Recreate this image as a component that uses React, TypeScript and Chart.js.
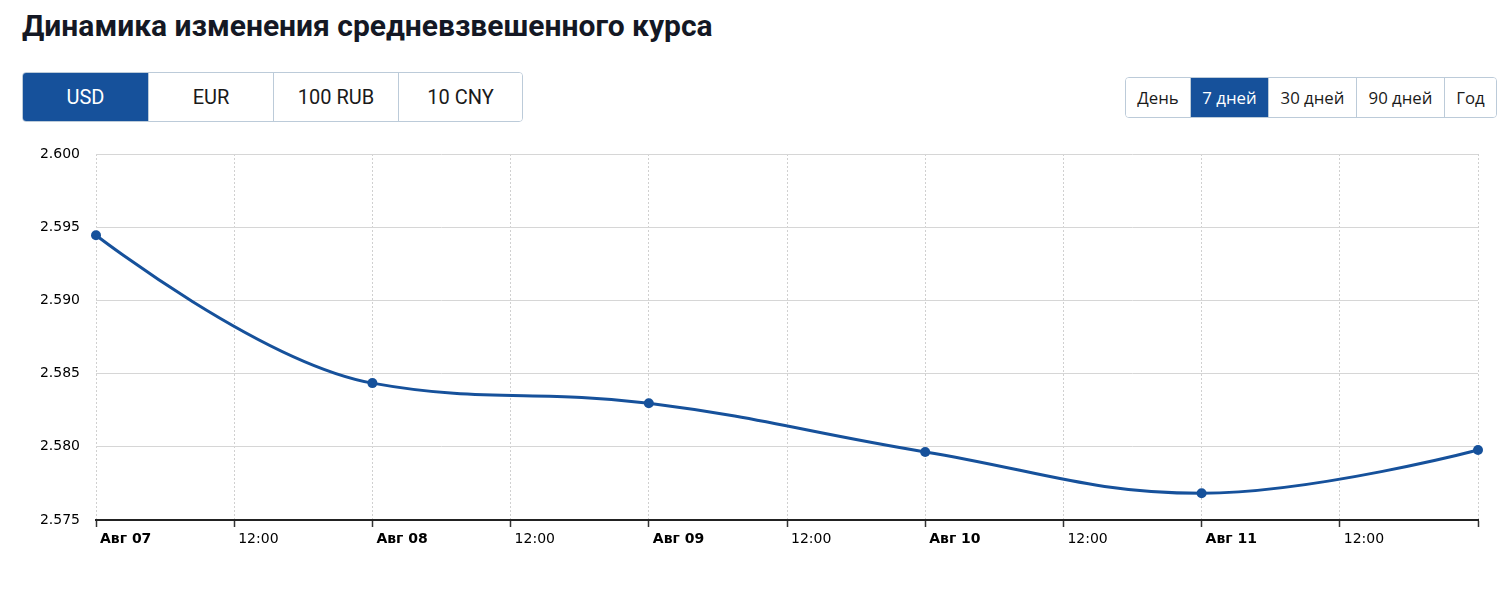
import React, { useEffect, useRef } from "react";
import { Chart, registerables } from "chart.js";

Chart.register(...registerables);

const TITLE = "Динамика изменения средневзвешенного курса";
const CURRENCIES = ["USD", "EUR", "100 RUB", "10 CNY"];
const PERIODS = ["День", "7 дней", "30 дней", "90 дней", "Год"];

// hours since Aug 07 00:00
const HOURS = [0, 24, 48, 72, 96, 120];
const RATES = [2.59445, 2.58435, 2.58298, 2.57965, 2.57683, 2.57978];
const X_TICK_LABELS = ["Авг 07", "12:00", "Авг 08", "12:00", "Авг 09", "12:00", "Авг 10", "12:00", "Авг 11", "12:00", ""];
const Y_MIN = 2.575;
const Y_MAX = 2.6;

const BLUE = "#16519b";
const BORDER = "#bccbd9";
const TICK_FONT = "'DejaVu Sans', Verdana, sans-serif";

// Spline control points in the style of the source chart (smoothing 1.5, no false extremes)
const splinePlugin = {
  id: "splineStyle",
  beforeDatasetsDraw(chart: any) {
    chart.getSortedVisibleDatasetMetas().forEach((meta: any) => {
      const line = meta.dataset;
      if (!line || !line.updateControlPoints) return;
      line.updateControlPoints(chart.chartArea, meta.iScale.axis);
      const pts = meta.data;
      const sm = 1.5;
      const den = sm + 1;
      for (let i = 0; i < pts.length; i++) {
        const p = pts[i];
        const prev = pts[i - 1];
        const next = pts[i + 1];
        if (!prev || !next) {
          p.cp1x = p.x;
          p.cp1y = p.y;
          p.cp2x = p.x;
          p.cp2y = p.y;
          continue;
        }
        const px = p.x, py = p.y;
        let lcx = (sm * px + prev.x) / den;
        let lcy = (sm * py + prev.y) / den;
        let rcx = (sm * px + next.x) / den;
        let rcy = (sm * py + next.y) / den;
        if (rcx !== lcx) {
          const corr = ((rcy - lcy) * (rcx - px)) / (rcx - lcx) + py - rcy;
          lcy += corr;
          rcy += corr;
        }
        if (lcy > prev.y && lcy > py) {
          lcy = Math.max(prev.y, py);
          rcy = 2 * py - lcy;
        } else if (lcy < prev.y && lcy < py) {
          lcy = Math.min(prev.y, py);
          rcy = 2 * py - lcy;
        }
        if (rcy > next.y && rcy > py) {
          rcy = Math.max(next.y, py);
          lcy = 2 * py - rcy;
        } else if (rcy < next.y && rcy < py) {
          rcy = Math.min(next.y, py);
          lcy = 2 * py - rcy;
        }
        p.cp1x = lcx;
        p.cp1y = lcy;
        p.cp2x = rcx;
        p.cp2y = rcy;
      }
    });
  },
};

function ChartBox() {
  const ref = useRef<HTMLCanvasElement>(null);
  useEffect(() => {
    if (!ref.current) return;
    const chart = new Chart(ref.current, {
      type: "line",
      data: {
        datasets: [
          {
            data: HOURS.map((h, i) => ({ x: h, y: RATES[i] })),
            borderColor: BLUE,
            backgroundColor: BLUE,
            borderWidth: 3,
            pointRadius: 5,
            pointBackgroundColor: BLUE,
            pointBorderWidth: 0,
            tension: 0.4,
            clip: false as any,
            fill: false,
          },
        ],
      },
      plugins: [splinePlugin],
      options: {
        animation: false,
        responsive: true,
        maintainAspectRatio: false,
        layout: { padding: { left: 0, right: 24, top: 14, bottom: 0 } },
        plugins: { legend: { display: false }, tooltip: { enabled: false } },
        scales: {
          x: {
            type: "linear",
            min: 0,
            max: 120,
            afterFit: (s: any) => {
              s.height = 40;
              s.paddingLeft = 0;
              s.paddingRight = 0;
            },
            afterBuildTicks: (s: any) => {
              s.ticks = X_TICK_LABELS.map((_, i) => ({ value: i * 12 }));
            },
            ticks: {
              stepSize: 12,
              autoSkip: false,
              maxRotation: 0,
              align: "start",
              labelOffset: 4,
              padding: 4,
              color: "#000",
              font: (ctx: any) => ({
                family: TICK_FONT,
                size: 14,
                weight: ctx.tick && ctx.tick.value % 24 === 0 ? "bold" : "normal",
              }),
              callback: (v: any) => X_TICK_LABELS[Math.round(Number(v) / 12)] ?? "",
            },
            grid: {
              color: "#d0d0d0",
              lineWidth: 1,
              drawTicks: true,
              tickLength: 7,
              tickColor: "#333",
              tickWidth: 1.5,
              tickBorderDash: [],
            },
            border: { display: true, color: "#222", width: 2, dash: [2, 2] },
          },
          y: {
            min: Y_MIN,
            max: Y_MAX,
            afterFit: (s: any) => {
              s.width = 96;
              s.paddingTop = 0;
              s.paddingBottom = 0;
            },
            ticks: {
              stepSize: 0.005,
              padding: 16,
              color: "#000",
              font: { family: TICK_FONT, size: 14 },
              callback: (v: any) => Number(v).toFixed(3),
            },
            grid: { color: "#d6d6d6", lineWidth: 1, drawTicks: false },
            border: { display: false },
          },
        },
      },
    });
    return () => chart.destroy();
  }, []);
  return (
    <div style={{ position: "absolute", left: 0, top: 140, width: 1502, height: 420 }}>
      <canvas ref={ref} />
    </div>
  );
}

function ButtonGroup({
  items,
  active,
  widths,
  height,
  fontSize,
  fontFamily,
  style,
}: {
  items: string[];
  active: number;
  widths: number[];
  height: number;
  fontSize: number;
  fontFamily: string;
  style: React.CSSProperties;
}) {
  return (
    <div
      style={{
        position: "absolute",
        display: "flex",
        border: `1px solid ${BORDER}`,
        borderRadius: 4,
        overflow: "hidden",
        boxSizing: "border-box",
        height,
        ...style,
      }}
    >
      {items.map((t, i) => (
        <div
          key={t}
          style={{
            width: widths[i],
            height: "100%",
            display: "flex",
            alignItems: "center",
            justifyContent: "center",
            background: i === active ? BLUE : "#fff",
            color: i === active ? "#fff" : "#1a1a1a",
            borderLeft: i === 0 ? "none" : `1px solid ${BORDER}`,
            fontFamily,
            fontSize,
            boxSizing: "border-box",
            whiteSpace: "nowrap",
          }}
        >
          {t}
        </div>
      ))}
    </div>
  );
}

export default function App() {
  return (
    <div style={{ position: "absolute", left: 0, top: 0, width: 1502, height: 601, background: "#fff", overflow: "hidden" }}>
      <div
        style={{
          position: "absolute",
          left: 22,
          top: 7,
          fontFamily: "Roboto, sans-serif",
          fontWeight: 700,
          fontSize: 30,
          lineHeight: "38px",
          color: "#141824",
          whiteSpace: "nowrap",
        }}
      >
        {TITLE}
      </div>
      <ButtonGroup
        items={CURRENCIES}
        active={0}
        widths={[125, 125, 125, 124]}
        height={50}
        fontSize={20}
        fontFamily="Roboto, sans-serif"
        style={{ left: 22, top: 72 }}
      />
      <ButtonGroup
        items={PERIODS}
        active={1}
        widths={[64, 78, 88, 88, 52]}
        height={41}
        fontSize={16.8}
        fontFamily="'Open Sans', sans-serif"
        style={{ left: 1125, top: 77 }}
      />
      <ChartBox />
    </div>
  );
}
